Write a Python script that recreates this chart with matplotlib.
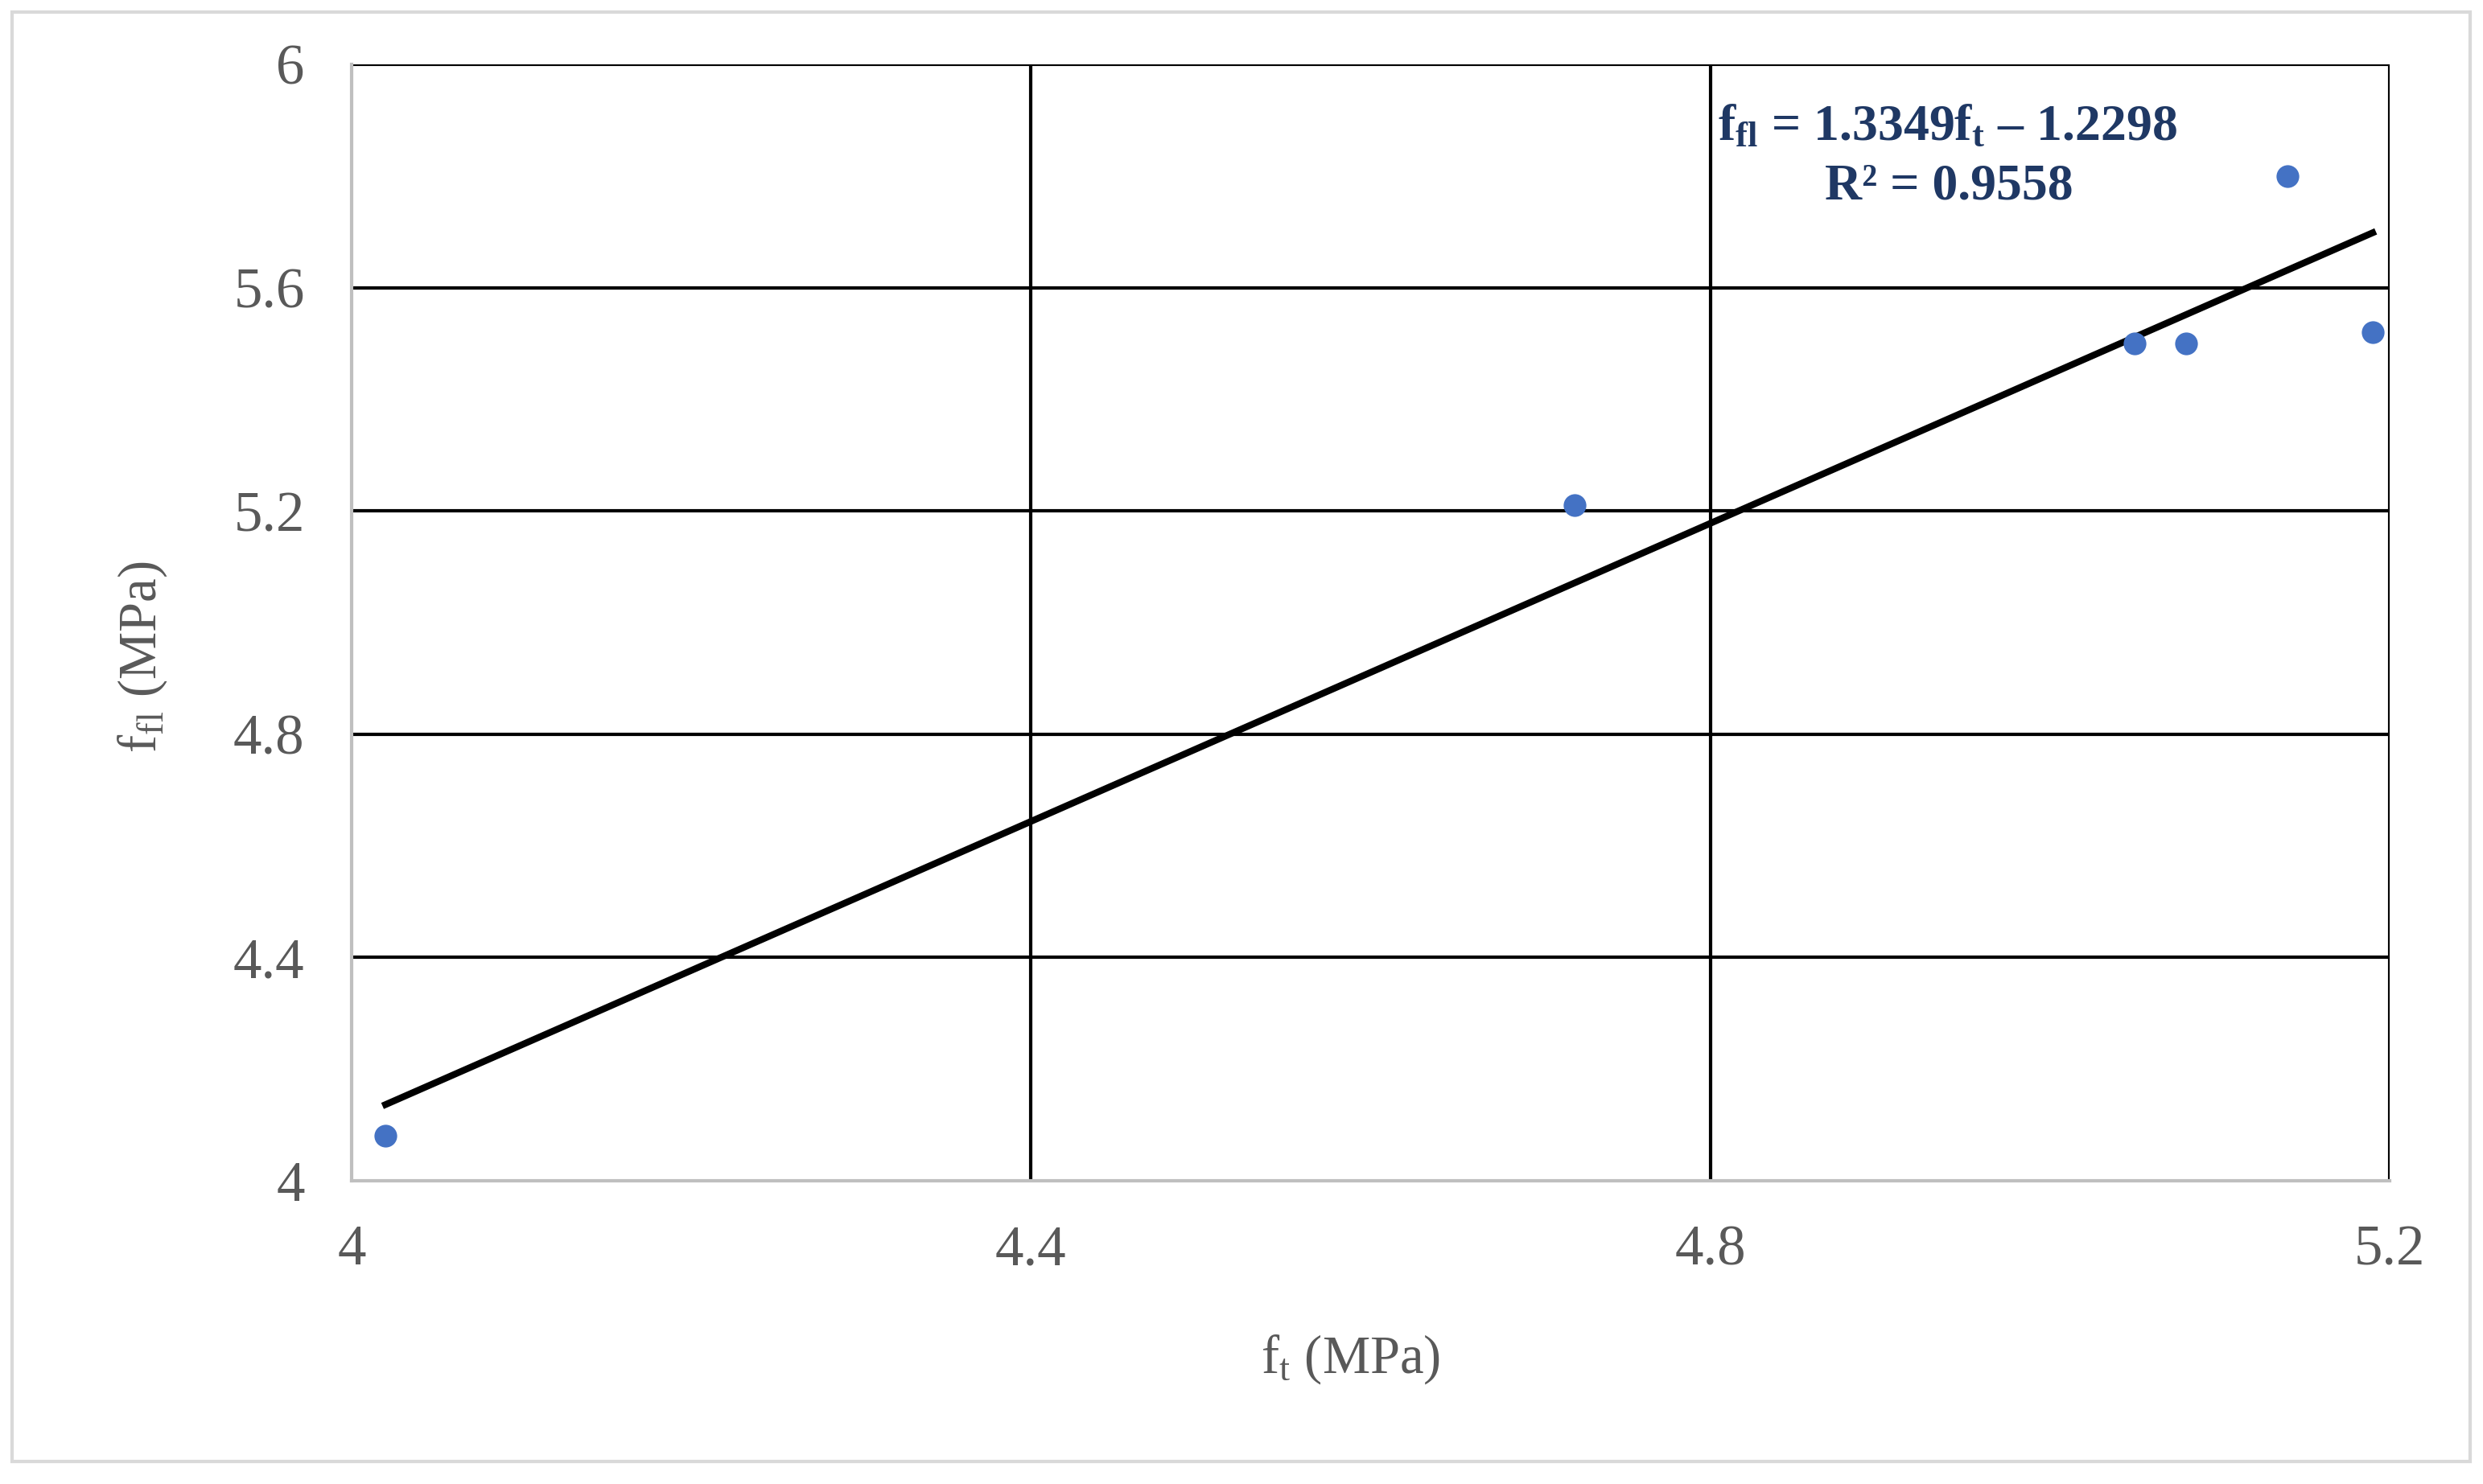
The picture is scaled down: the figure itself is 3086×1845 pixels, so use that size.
import matplotlib
matplotlib.use("Agg")
import matplotlib.pyplot as plt
from matplotlib.patches import Rectangle
import numpy as np

# Data
ft = [4.02, 4.72, 5.05, 5.08, 5.14, 5.19]
ffl = [4.08, 5.21, 5.50, 5.50, 5.80, 5.52]
slope = 1.3349
intercept = -1.2298
r2 = 0.9558
xticks = [4.0, 4.4, 4.8, 5.2]
yticks = [4.0, 4.4, 4.8, 5.2, 5.6, 6.0]
xticklabels = ["4", "4.4", "4.8", "5.2"]
yticklabels = ["4", "4.4", "4.8", "5.2", "5.6", "6"]

plt.rcParams['font.family'] = ['Liberation Serif', 'DejaVu Serif']
plt.rcParams['mathtext.fontset'] = 'custom'
plt.rcParams['mathtext.rm'] = 'Liberation Serif'
plt.rcParams['mathtext.it'] = 'Liberation Serif:italic'
plt.rcParams['mathtext.bf'] = 'Liberation Serif:bold'

W, H = 3087, 1845
dpi = 300
fig = plt.figure(figsize=(W / dpi, H / dpi), dpi=dpi)
fig.patches.append(Rectangle((15 / W, 1 - 1817 / H), (3070 - 15) / W, (1817 - 15) / H,
                             transform=fig.transFigure, fill=False,
                             edgecolor='#d9d9d9', linewidth=1.0, zorder=0))

ax = fig.add_axes([437 / W, 1 - 1468 / H, (2970 - 437) / W, (1468 - 80) / H])
ax.set_xlim(4.0, 5.2)
ax.set_ylim(4.0, 6.0)

# gridlines
for xv in xticks[1:]:
    ax.axvline(xv, color='black', linewidth=1.0, zorder=1)
for yv in yticks[1:]:
    ax.axhline(yv, color='black', linewidth=1.0, zorder=1)

for s in ['top', 'right']:
    ax.spines[s].set_visible(False)
for s in ['left', 'bottom']:
    ax.spines[s].set_color('#bfbfbf')
    ax.spines[s].set_linewidth(1.0)

ax.scatter(ft, ffl, s=46, color='#4472C4', zorder=3, linewidths=0)

xl = np.array([min(ft), max(ft)])
ax.plot(xl, slope * xl + intercept, color='black', linewidth=2.0, zorder=2)

ax.set_xticks(xticks)
ax.set_xticklabels(xticklabels)
ax.set_yticks(yticks)
ax.set_yticklabels(yticklabels)
ax.tick_params(axis='both', length=0, labelsize=17, colors='#595959')
ax.tick_params(axis='x', pad=13)
ax.tick_params(axis='y', pad=14)

fig.text(1679 / W, 1 - 1690 / H, r'$\mathregular{f_t}$ (MPa)', ha='center', va='center',
         fontsize=16, color='#595959')
fig.text(177 / W, 1 - 817 / H, r'$\mathregular{f_{fl}}$ (MPa)', ha='center', va='center',
         rotation=90, fontsize=16, color='#595959')

eq_color = '#1F3864'
fig.text(2135 / W, 1 - 159 / H,
         r'$\mathbf{f_{fl}}$' + f' = {slope}' + r'$\mathbf{f_t}$' + f' \u2013 {abs(intercept)}',
         ha='left', va='center', fontsize=15.3, fontweight='bold', color=eq_color)
fig.text(2422 / W, 1 - 233 / H, f'R\u00b2 = {r2}', ha='center', va='center',
         fontsize=15.3, fontweight='bold', color=eq_color)

fig.savefig('out.png', dpi=dpi)
